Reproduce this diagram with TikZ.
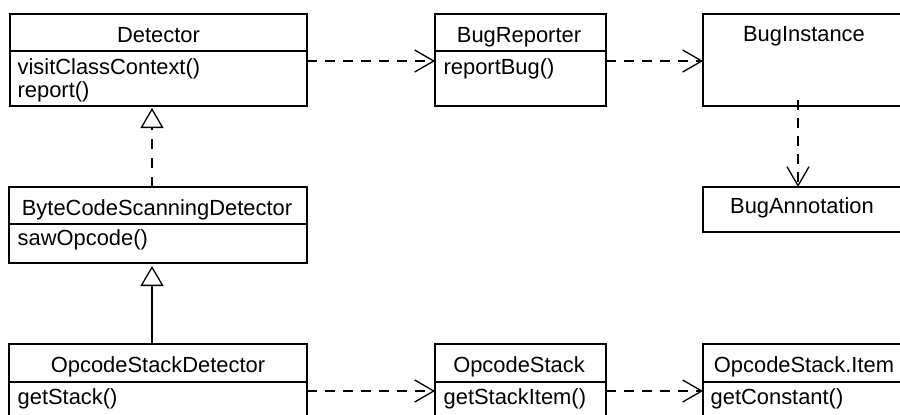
\documentclass[tikz,border=0pt]{standalone}
\usepackage{fontspec}
\setmainfont{Liberation Sans}
\usetikzlibrary{arrows.meta}
\begin{document}
\begin{tikzpicture}[x=1pt,y=-1pt,line width=1.3pt,
  cls/.style={draw,rectangle,inner sep=0pt,outer sep=0pt,anchor=north west},
  ttl/.style={inner sep=0pt,anchor=base,font=\fontsize{21.9}{24}\selectfont},
  mth/.style={inner sep=0pt,anchor=base west,align=left,font=\fontsize{21.9}{23}\selectfont},
  dep/.style={dash pattern=on 10pt off 8pt,-{Straight Barb[length=19pt,width=22pt,line width=1.3pt]}},
  real/.style={dash pattern=on 10pt off 9pt,-{Triangle[open,length=20pt,width=23pt,line width=1.3pt,fill=white]}},
  gen/.style={-{Triangle[open,length=20pt,width=23pt,line width=1.3pt,fill=white]}}]
\useasboundingbox (0,0) rectangle (900,415);
\clip (0,0) rectangle (900,415);
% boxes
\node[cls,minimum width=297pt,minimum height=92pt] (det) at (10,14) {};
\node[cls,minimum width=298pt,minimum height=76pt] (bcsd) at (9,187) {};
\node[cls,minimum width=298pt,minimum height=85pt] (osd) at (9,344) {};
\node[cls,minimum width=171pt,minimum height=92pt] (rep) at (435,14) {};
\node[cls,minimum width=202pt,minimum height=92pt] (inst) at (703,14) {};
\node[cls,minimum width=202pt,minimum height=45pt] (ann) at (703,187) {};
\node[cls,minimum width=171pt,minimum height=85pt] (ostk) at (435,344) {};
\node[cls,minimum width=202pt,minimum height=85pt] (item) at (703,344) {};
% dividers
\draw ([yshift=-37pt]det.north west) -- ([yshift=-37pt]det.north east);
\draw ([yshift=-37pt]bcsd.north west) -- ([yshift=-37pt]bcsd.north east);
\draw ([yshift=-38pt]osd.north west) -- ([yshift=-38pt]osd.north east);
\draw ([yshift=-37pt]rep.north west) -- ([yshift=-37pt]rep.north east);
\draw ([yshift=-38pt]ostk.north west) -- ([yshift=-38pt]ostk.north east);
\draw ([yshift=-38pt]item.north west) -- ([yshift=-38pt]item.north east);
% titles
\node[ttl] (detT) at (158.5,42) {Detector};
\node[ttl] (bcsdT) at (157,215) {ByteCodeScanningDetector};
\node[ttl] (osdT) at (158,372) {OpcodeStackDetector};
\node[ttl] (repT) at (519,42) {BugReporter};
\node[ttl] (instT) at (804,41) {BugInstance};
\node[ttl] (annT) at (802,213) {BugAnnotation};
\node[ttl] (ostkT) at (519,372) {OpcodeStack};
\node[ttl] (itemT) at (804,372) {OpcodeStack.Item};
% methods
\node[mth] (detM1) at (17,74) {visitClassContext()};
\node[mth] (detM2) at (17,97) {report()};
\node[mth] (bcsdM) at (17,245) {sawOpcode()};
\node[mth] (osdM) at (17,404) {getStack()};
\node[mth] (repM) at (443,74) {reportBug()};
\node[mth] (ostkM) at (443,404) {getStackItem()};
\node[mth] (itemM) at (710,404) {getConstant()};
% connectors
\draw[dep] ([yshift=-47pt]det.north east) -- ([yshift=-47pt]rep.north west);
\draw[dep] ([yshift=-47pt]rep.north east) -- ([yshift=-47pt]inst.north west);
\draw[dep] ([xshift=95pt,yshift=6pt]inst.south west) -- ([xshift=95pt]ann.north west);
\draw[real] ([xshift=143pt]bcsd.north west) -- ([xshift=142pt,yshift=-2pt]det.south west);
\draw[gen] ([xshift=143pt]osd.north west) -- ([xshift=143pt,yshift=-3pt]bcsd.south west);
\draw[dep] ([yshift=-47pt]osd.north east) -- ([yshift=-47pt]ostk.north west);
\draw[dep] ([yshift=-47pt]ostk.north east) -- ([yshift=-47pt]item.north west);
\end{tikzpicture}
\end{document}
